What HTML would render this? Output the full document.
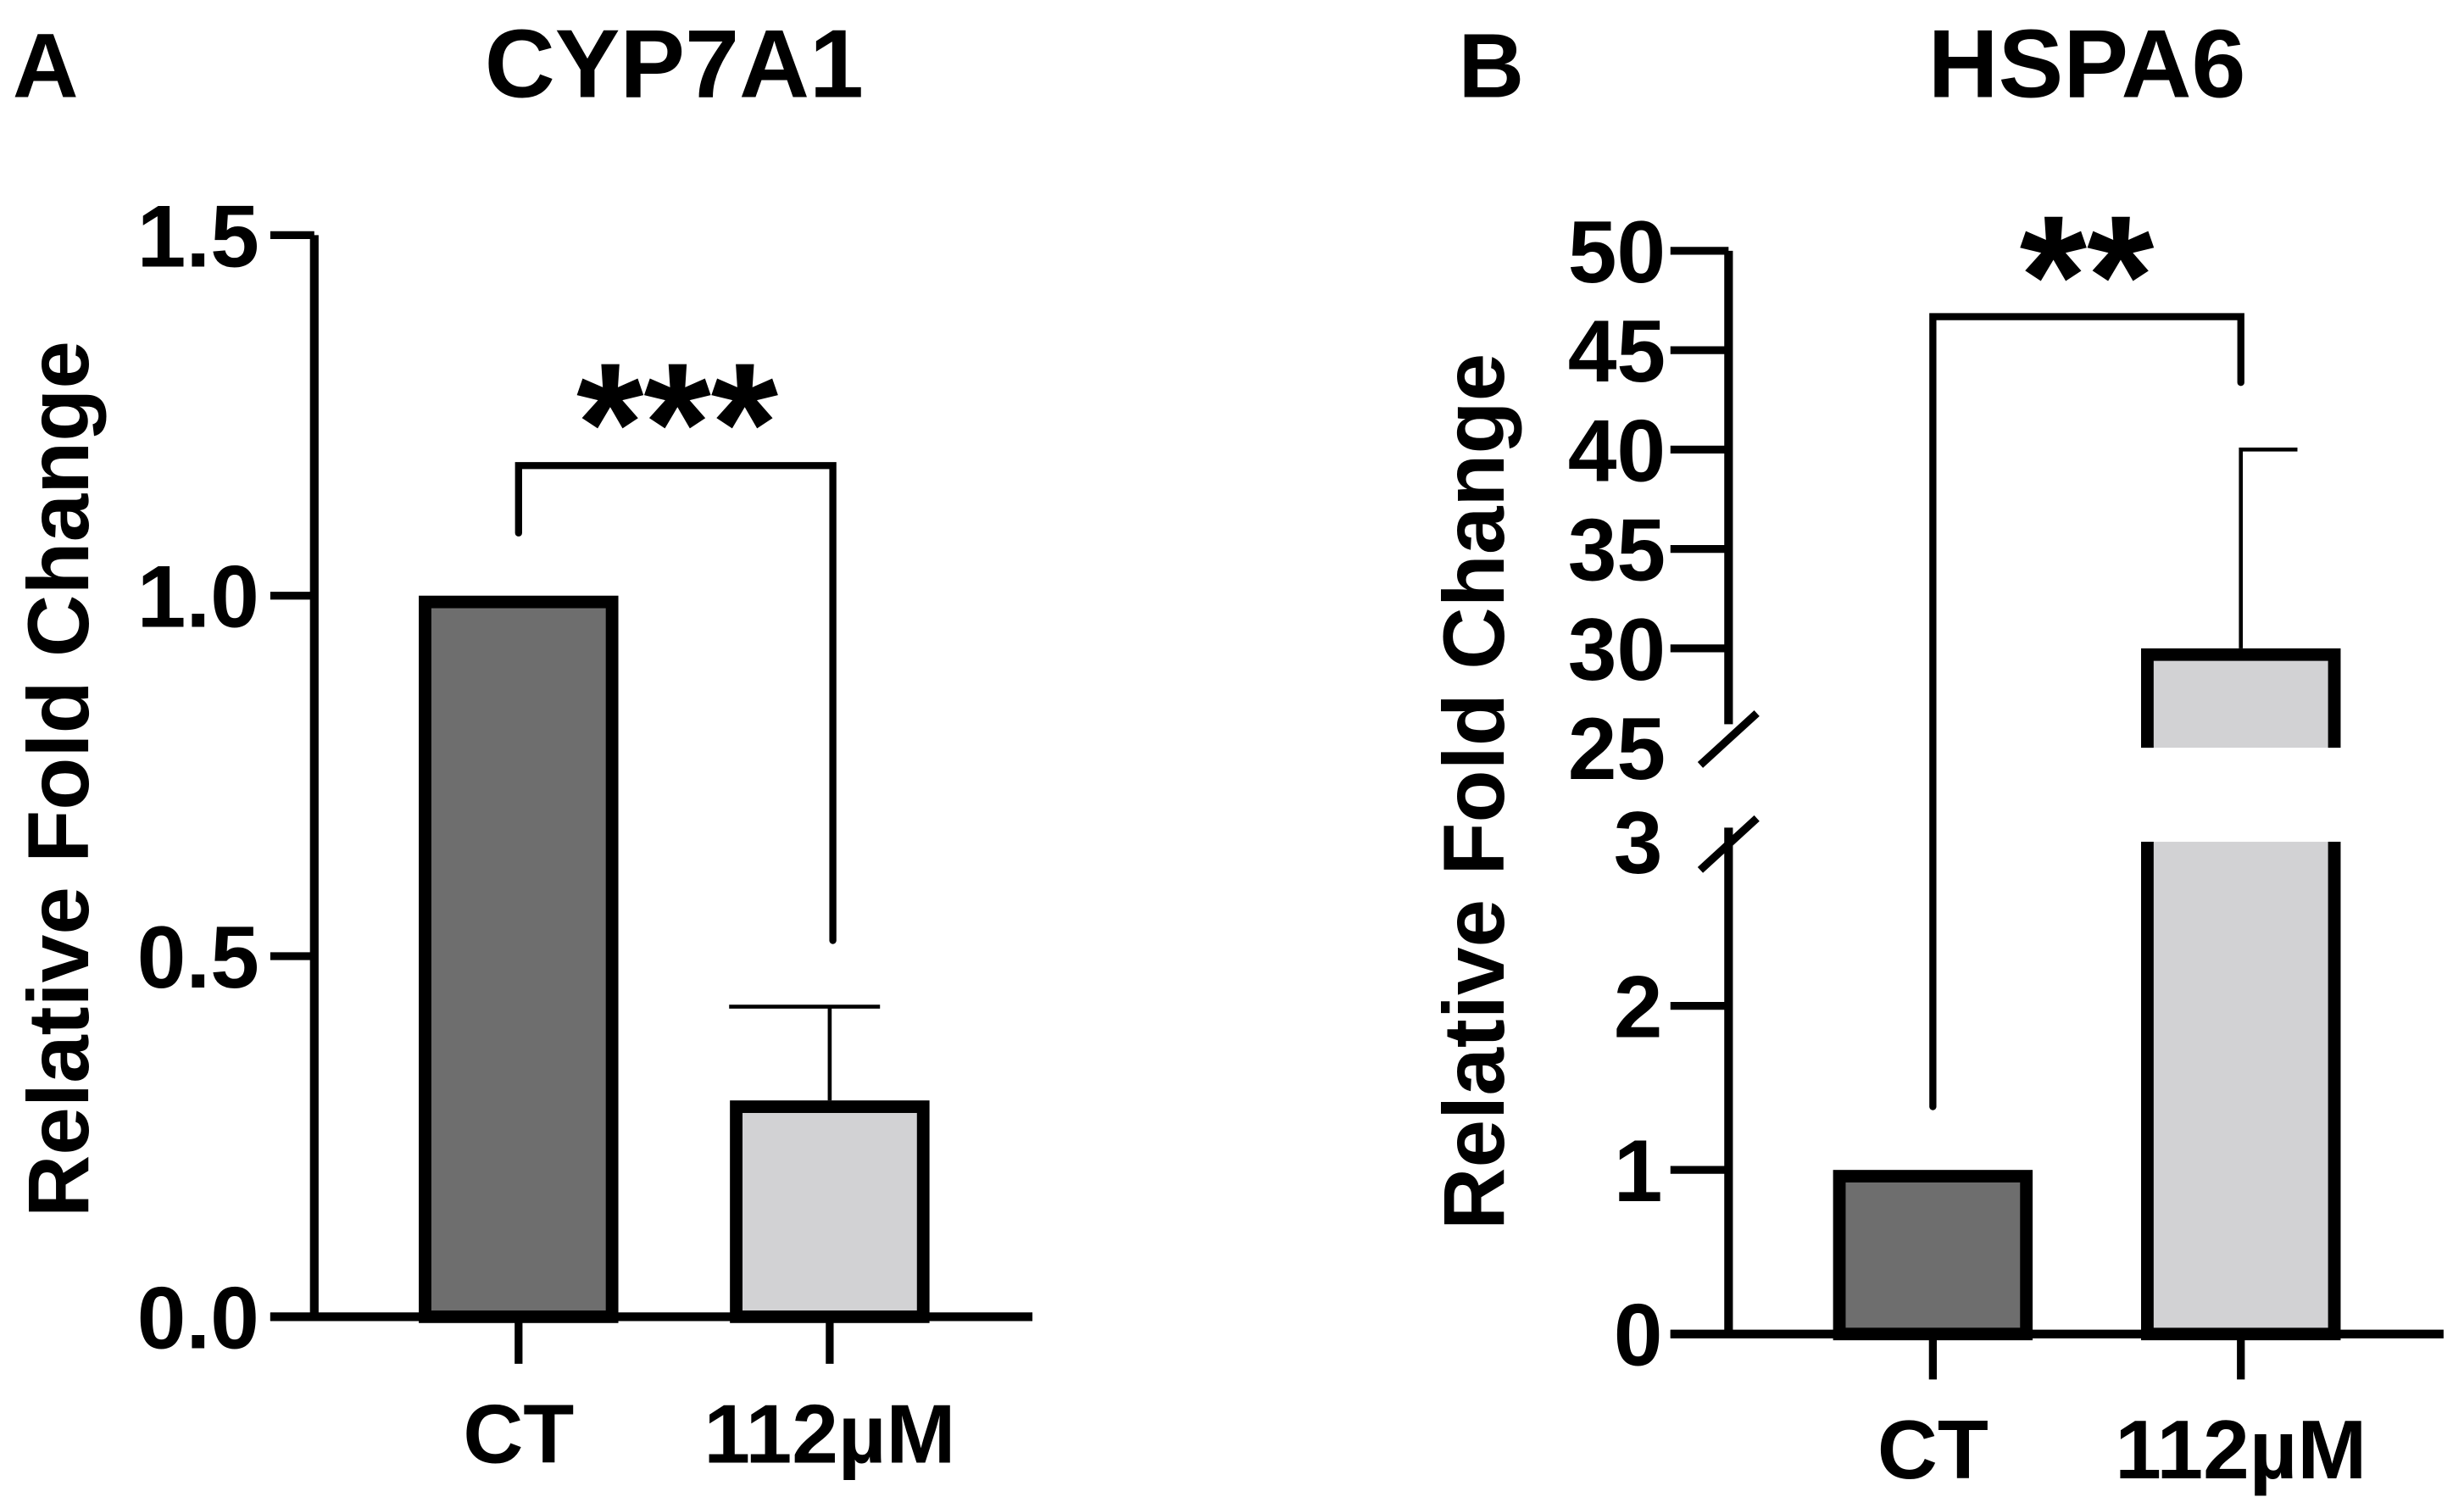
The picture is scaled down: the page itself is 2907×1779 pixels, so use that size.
<!DOCTYPE html>
<html><head><meta charset="utf-8"><style>
html,body{margin:0;padding:0;background:#fff;}
svg{display:block;}
text{font-family:"Liberation Sans",Arial,sans-serif;font-weight:bold;fill:#000;}
</style></head><body>
<svg id="fig" width="2907" height="1779" viewBox="0 0 1568 962" preserveAspectRatio="none" xmlns="http://www.w3.org/2000/svg">
<g id="pa"></g>
<g id="pb"></g>
</svg>
<script>
// Panel A data
const aCategories = ["CT", "112µM"];
const aValues = [1.0, 0.30];
const aErrors = [null, 0.43];
const aTicks = [0, 0.5, 1.0, 1.5];
const aTickLabels = ["0.0", "0.5", "1.0", "1.5"];
// Panel B data
const bCategories = ["CT", "112µM"];
const bValues = [1, 30];
const bErrors = [null, 40];
const bLowTicks = [0, 1, 2, 3];
const bHighTicks = [25, 30, 35, 40, 45, 50];

const NS = "http://www.w3.org/2000/svg";
function mk(parent, tag, attrs, txt) {
  const e = document.createElementNS(NS, tag);
  for (const k in attrs) e.setAttribute(k, attrs[k]);
  if (txt !== undefined) e.textContent = txt;
  parent.appendChild(e);
  return e;
}
const pa = document.getElementById('pa');
const pb = document.getElementById('pb');

// ---------- Panel A ----------
const ayA = v => 840 - (v / 1.5) * (840 - 150);
const xA = [330, 528];
const bwA = 127;
let t;
t = mk(pa, 'text', {x: 8, y: 62, 'font-size': 58});
t.textContent = 'A';


t = mk(pa, 'text', {x: 429, y: 62, 'font-size': 62, 'text-anchor': 'middle'}, 'CYP7A1');


t = mk(pa, 'text', {x: 0, y: 0, 'font-size': 55, 'text-anchor': 'middle', transform: 'translate(56,497) rotate(-90)'}, 'Relative Fold Change');


aValues.forEach((v, i) => {
  const r = mk(pa, 'rect', {x: xA[i] - bwA / 2 + 4, y: ayA(v) + 4, width: bwA - 8, height: ayA(0) - ayA(v) - 4, fill: i === 0 ? '#6e6e6e' : '#d2d2d4', stroke: '#000', 'stroke-width': 8});
  
  
  if (aErrors[i] !== null) {
    const g = mk(pa, 'path', {d: `M${xA[i]},${ayA(v)} V${ayA(aErrors[i])} M${xA[i] - 64},${ayA(aErrors[i])} H${xA[i] + 32}`, stroke: '#000', 'stroke-width': 2.5, fill: 'none'});
    
    
  }
});
let ax = mk(pa, 'path', {d: `M200,${ayA(1.5)} V${ayA(0)} M172,${ayA(0)} H657`, stroke: '#000', 'stroke-width': 5.5, fill: 'none'});


aTicks.forEach((v, i) => {
  mk(pa, 'line', {x1: 172, x2: 200, y1: ayA(v), y2: ayA(v), stroke: '#000', 'stroke-width': 5});
  const l = mk(pa, 'text', {x: 165, y: ayA(v) + 20, 'font-size': 56, 'text-anchor': 'end'}, aTickLabels[i]);
  
  
});
aCategories.forEach((c, i) => {
  mk(pa, 'line', {x1: xA[i], x2: xA[i], y1: ayA(0), y2: 870, stroke: '#000', 'stroke-width': 5});
  const l = mk(pa, 'text', {x: xA[i], y: 933, 'font-size': 53, 'text-anchor': 'middle'}, c);
  
  
});
let br = mk(pa, 'path', {d: `M330,340 V297 H530 V600`, stroke: '#000', 'stroke-width': 4.5, fill: 'none', 'stroke-linecap': 'round'});


t = mk(pa, 'text', {x: 431, y: 308, 'font-size': 110, 'text-anchor': 'middle'}, '***');



// ---------- Panel B ----------
const yLow = v => 851 - (v / 3) * (851 - 537);
const yHigh = v => 477 - ((v - 25) / 25) * (477 - 160);
const yB = v => v <= 3 ? yLow(v) : yHigh(v);
const xB = [1230, 1426];
const bwB = 127;
t = mk(pb, 'text', {x: 928, y: 62, 'font-size': 58}, 'B');


t = mk(pb, 'text', {x: 1328, y: 62, 'font-size': 62, 'text-anchor': 'middle'}, 'HSPA6');


t = mk(pb, 'text', {x: 0, y: 0, 'font-size': 55, 'text-anchor': 'middle', transform: 'translate(957,505) rotate(-90)'}, 'Relative Fold Change');


bValues.forEach((v, i) => {
  const x0 = xB[i] - bwB / 2 + 4, x1 = xB[i] + bwB / 2 - 4;
  const fill = i === 0 ? '#6e6e6e' : '#d2d2d4';
  if (v <= 3) {
    const r = mk(pb, 'rect', {x: x0, y: yB(v) + 4, width: x1 - x0, height: yLow(0) - yB(v) - 4, fill: fill, stroke: '#000', 'stroke-width': 8});
    
    
  } else {
    const g = mk(pb, 'g', {});
    
    
    mk(g, 'rect', {x: x0, y: yLow(3), width: x1 - x0, height: yLow(0) - yLow(3), fill: fill});
    mk(g, 'path', {d: `M${x0},${yLow(3)} V${yLow(0)} H${x1} V${yLow(3)}`, stroke: '#000', 'stroke-width': 8, fill: 'none'});
    mk(g, 'rect', {x: x0, y: yHigh(v) + 4, width: x1 - x0, height: yHigh(25) - yHigh(v) - 4, fill: fill});
    mk(g, 'path', {d: `M${x0},${yHigh(25)} V${yHigh(v) + 4} H${x1} V${yHigh(25)}`, stroke: '#000', 'stroke-width': 8, fill: 'none'});
  }
  if (bErrors[i] !== null) {
    const e = mk(pb, 'path', {d: `M${xB[i]},${yB(v)} V${yB(bErrors[i])} H${xB[i] + 36}`, stroke: '#000', 'stroke-width': 2.5, fill: 'none'});
    
    
  }
});
ax = mk(pb, 'path', {d: `M1100,${yHigh(50)} V462 M1100,528 V${yLow(0)} M1063,${yLow(0)} H1555`, stroke: '#000', 'stroke-width': 5.5, fill: 'none'});


let brk = mk(pb, 'path', {d: `M1082,488 L1118,455 M1082,555 L1118,522`, stroke: '#000', 'stroke-width': 5, fill: 'none'});


bLowTicks.forEach(v => {
  if (v < 3) mk(pb, 'line', {x1: 1063, x2: 1100, y1: yLow(v), y2: yLow(v), stroke: '#000', 'stroke-width': 5});
  const l = mk(pb, 'text', {x: 1058, y: yLow(v) + 20, 'font-size': 56, 'text-anchor': 'end'}, String(v));
  
  
});
bHighTicks.forEach(v => {
  if (v > 25) mk(pb, 'line', {x1: 1063, x2: 1100, y1: yHigh(v), y2: yHigh(v), stroke: '#000', 'stroke-width': 5});
  const l = mk(pb, 'text', {x: 1060, y: yHigh(v) + 20, 'font-size': 56, 'text-anchor': 'end'}, String(v));
  
  
});
bCategories.forEach((c, i) => {
  mk(pb, 'line', {x1: xB[i], x2: xB[i], y1: yLow(0), y2: 880, stroke: '#000', 'stroke-width': 5});
  const l = mk(pb, 'text', {x: xB[i], y: 943, 'font-size': 53, 'text-anchor': 'middle'}, c);
  
  
});
br = mk(pb, 'path', {d: `M1230,706 V202 H1426 V244`, stroke: '#000', 'stroke-width': 4.5, fill: 'none', 'stroke-linecap': 'round'});


t = mk(pb, 'text', {x: 1328, y: 214, 'font-size': 110, 'text-anchor': 'middle'}, '**');


</script>
</body></html>
